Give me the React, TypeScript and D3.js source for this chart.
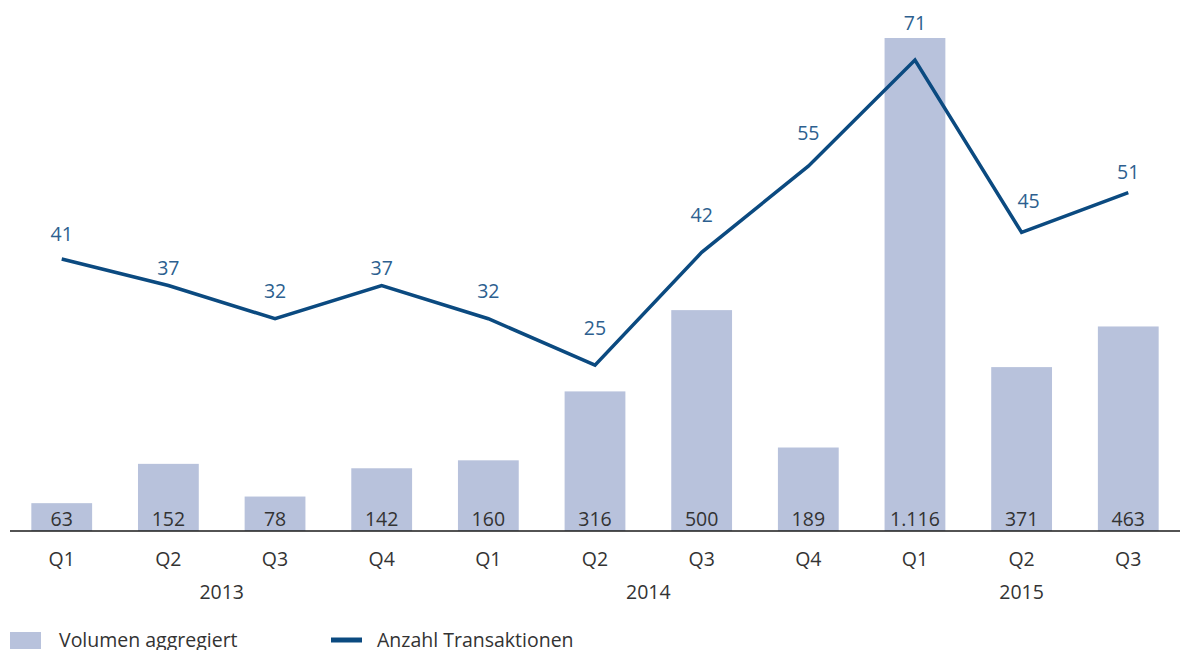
import { useEffect, useRef } from "react";
import * as d3 from "d3";

const width = 1185;
const height = 650;

const quarters = ["Q1", "Q2", "Q3", "Q4", "Q1", "Q2", "Q3", "Q4", "Q1", "Q2", "Q3"];
const years = ["2013", "2014", "2015"];
const yearSpans = [
  [0, 3],
  [4, 7],
  [8, 10],
];
const volume = [63, 152, 78, 142, 160, 316, 500, 189, 1116, 371, 463];
const volumeLabels = ["63", "152", "78", "142", "160", "316", "500", "189", "1.116", "371", "463"];
const transactions = [41, 37, 32, 37, 32, 25, 42, 55, 71, 45, 51];

// Abstand der Linienbeschriftung über dem Punkt (wie im Original platziert)
const labelLift = [18, 11, 21, 11, 21, 30, 30, 26, 30, 24, 14];
const labelShift = [0, 0, 0, 0, 0, 0, 0, 0, 0, 7, 0];

const barColor = "#b8c2dc";
const lineColor = "#0b4a80";
const labelBlue = "#2d5f8f";
const textColor = "#333333";
const font = "'Open Sans', sans-serif";
const fontSize = 19.5;

export default function App() {
  const ref = useRef<SVGSVGElement>(null);

  useEffect(() => {
    const svg = d3.select(ref.current);
    svg.selectAll("*").remove();

    const baseline = 531;

    const x = d3
      .scaleBand<number>()
      .domain(d3.range(quarters.length))
      .range([10, 1180])
      .paddingInner(0.43)
      .paddingOuter(0.2);
    const cx = (i: number) => (x(i) as number) + x.bandwidth() / 2;

    const yBar = d3.scaleLinear().domain([0, 1116]).range([baseline, 38]);
    const yLine = d3.scaleLinear().domain([0, 71]).range([baseline, 60]);

    // Balken
    svg
      .append("g")
      .selectAll("rect")
      .data(volume)
      .enter()
      .append("rect")
      .attr("x", (d, i) => x(i) as number)
      .attr("width", x.bandwidth())
      .attr("y", (d) => yBar(d))
      .attr("height", (d) => baseline - yBar(d))
      .attr("fill", barColor);

    svg
      .append("g")
      .selectAll("text")
      .data(volumeLabels)
      .enter()
      .append("text")
      .attr("x", (d, i) => cx(i))
      .attr("y", baseline - 5)
      .attr("text-anchor", "middle")
      .attr("font-family", font)
      .attr("font-size", fontSize)
      .attr("fill", textColor)
      .text((d) => d);

    // Achse
    svg
      .append("line")
      .attr("x1", 10)
      .attr("x2", 1180)
      .attr("y1", baseline)
      .attr("y2", baseline)
      .attr("stroke", "#1a1a1a")
      .attr("stroke-width", 1.6);

    svg
      .append("g")
      .selectAll("text")
      .data(quarters)
      .enter()
      .append("text")
      .attr("x", (d, i) => cx(i))
      .attr("y", 566)
      .attr("text-anchor", "middle")
      .attr("font-family", font)
      .attr("font-size", fontSize)
      .attr("fill", textColor)
      .text((d) => d);

    svg
      .append("g")
      .selectAll("text")
      .data(years)
      .enter()
      .append("text")
      .attr("x", (d, i) => (cx(yearSpans[i][0]) + cx(yearSpans[i][1])) / 2)
      .attr("y", 599)
      .attr("text-anchor", "middle")
      .attr("font-family", font)
      .attr("font-size", fontSize)
      .attr("fill", textColor)
      .text((d) => d);

    // Linie
    const line = d3
      .line<number>()
      .x((d, i) => cx(i))
      .y((d) => yLine(d));

    svg
      .append("path")
      .datum(transactions)
      .attr("fill", "none")
      .attr("stroke", lineColor)
      .attr("stroke-width", 3.5)
      .attr("stroke-linejoin", "miter")
      .attr("d", line);

    svg
      .append("g")
      .selectAll("text")
      .data(transactions)
      .enter()
      .append("text")
      .attr("x", (d, i) => cx(i) + labelShift[i])
      .attr("y", (d, i) => yLine(d) - labelLift[i])
      .attr("text-anchor", "middle")
      .attr("font-family", font)
      .attr("font-size", fontSize)
      .attr("fill", labelBlue)
      .text((d) => d);

    // Legende
    const legend = svg.append("g");
    legend.append("rect").attr("x", 10).attr("y", 632).attr("width", 31).attr("height", 17).attr("fill", barColor);
    legend
      .append("text")
      .attr("x", 59)
      .attr("y", 647)
      .attr("font-family", font)
      .attr("font-size", fontSize)
      .attr("fill", textColor)
      .text("Volumen aggregiert");
    legend
      .append("line")
      .attr("x1", 331)
      .attr("x2", 362)
      .attr("y1", 640)
      .attr("y2", 640)
      .attr("stroke", lineColor)
      .attr("stroke-width", 5);
    legend
      .append("text")
      .attr("x", 377)
      .attr("y", 647)
      .attr("font-family", font)
      .attr("font-size", fontSize)
      .attr("fill", textColor)
      .text("Anzahl Transaktionen");
  }, []);

  return (
    <svg
      ref={ref}
      width={width}
      height={height}
      style={{ position: "absolute", left: 0, top: 0, background: "#fff" }}
    />
  );
}
